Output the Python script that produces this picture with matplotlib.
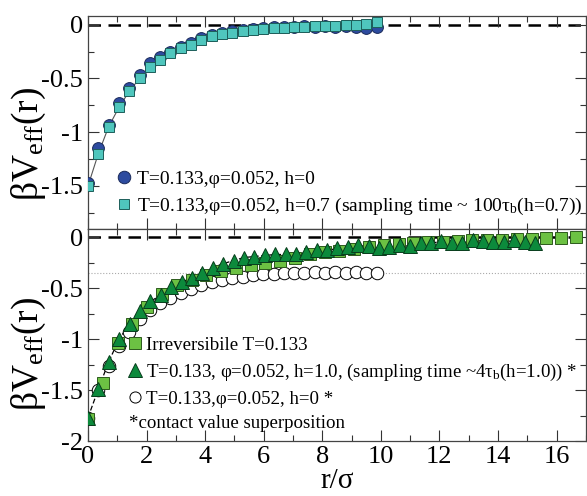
import numpy as np
import matplotlib
matplotlib.use("Agg")
import matplotlib.pyplot as plt
from matplotlib.lines import Line2D
from matplotlib.ticker import MultipleLocator, FuncFormatter

plt.rcParams['font.family'] = ['Liberation Serif', 'DejaVu Serif']
plt.rcParams['mathtext.fontset'] = 'custom'
plt.rcParams['mathtext.rm'] = 'Liberation Serif'
plt.rcParams['mathtext.it'] = 'Liberation Serif:italic'

# ---------------- data ----------------
# top panel
top_x = [round(0.352 * i, 3) for i in range(29)]
top_h0 = [-1.47, -1.15, -0.93, -0.73, -0.59, -0.47, -0.36, -0.30, -0.25, -0.21,
          -0.17, -0.12, -0.10, -0.08, -0.06, -0.05, -0.04, -0.03, -0.025, -0.02,
          -0.02, -0.01, -0.02, -0.01, -0.02, -0.01, -0.02, -0.03, -0.02]
top_h07 = [-1.50, -1.20, -0.95, -0.77, -0.62, -0.50, -0.39, -0.33, -0.26, -0.22,
           -0.19, -0.14, -0.11, -0.09, -0.08, -0.06, -0.05, -0.04, -0.03, -0.03,
           -0.02, -0.02, -0.01, -0.01, -0.01, 0.0, 0.0, 0.01, 0.02]

# bottom panel
irr_x = [round(0.505 * i, 3) for i in range(34)]
irr_y = [-1.78, -1.43, -1.04, -0.85, -0.69, -0.56, -0.47, -0.42, -0.37, -0.33,
         -0.30, -0.27, -0.25, -0.23, -0.20, -0.17, -0.15, -0.14, -0.12, -0.10,
         -0.08, -0.07, -0.06, -0.05, -0.05, -0.04, -0.03, -0.03, -0.03, -0.02,
         -0.02, -0.01, -0.005, 0.0]

tri_x = [round(0.355 * i, 3) for i in range(44)]
tri_y = [-1.77, -1.49, -1.22, -1.00, -0.85, -0.72, -0.63, -0.57, -0.49, -0.44,
         -0.40, -0.35, -0.30, -0.26, -0.23, -0.20, -0.19, -0.18, -0.17, -0.17,
         -0.17, -0.15, -0.13, -0.13, -0.11, -0.10, -0.08, -0.09, -0.11, -0.10,
         -0.08, -0.09, -0.06, -0.06, -0.04, -0.06, -0.06, -0.03, -0.04, -0.05,
         -0.05, -0.03, -0.05, -0.06]

oc_x = [round(0.352 * i, 3) for i in range(29)]
oc_y = [-1.77, -1.50, -1.26, -1.07, -0.93, -0.80, -0.71, -0.65, -0.60, -0.55,
        -0.51, -0.47, -0.44, -0.42, -0.40, -0.39, -0.37, -0.36, -0.36, -0.35,
        -0.35, -0.35, -0.345, -0.35, -0.345, -0.35, -0.345, -0.35, -0.355]
plateau = -0.35

labels_top = ["T=0.133,φ=0.052, h=0",
              "T=0.133,φ=0.052, h=0.7 (sampling time ~ 100τ$_\\mathregular{b}$(h=0.7))"]
labels_bot = ["Irreversibile T=0.133",
              "T=0.133, φ=0.052, h=1.0, (sampling time ~4τ$_\\mathregular{b}$(h=1.0)) *",
              "T=0.133,φ=0.052, h=0 *"]
note = "*contact value superposition"

# ---------------- figure ----------------
W, H = 587, 496
fig = plt.figure(figsize=(W / 100, H / 100), dpi=100)
L, R = 88 / W, 0.998
ax1 = fig.add_axes([L, 1 - 229 / H, R - L, (229 - 16) / H])
ax2 = fig.add_axes([L, 1 - 441 / H, R - L, (441 - 229) / H])

c_blue = '#2d4b9f'
c_cyan = '#4fc6bd'
c_lgreen = '#6cc143'
c_dgreen = '#0c8a3c'


def yfmt(v, pos):
    if abs(v) < 1e-9:
        return '0'
    return '%g' % v


for ax in (ax1, ax2):
    ax.axhline(0, color='black', ls=(0, (5, 3)), lw=1.8, zorder=1)
    ax.set_xlim(0, 17)
    ax.xaxis.set_major_locator(MultipleLocator(2))
    ax.xaxis.set_minor_locator(MultipleLocator(1))
    ax.yaxis.set_major_locator(MultipleLocator(0.5))
    ax.yaxis.set_minor_locator(MultipleLocator(0.25))
    ax.yaxis.set_major_formatter(FuncFormatter(yfmt))
    ax.tick_params(which='both', direction='in', top=True, right=True,
                   labelsize=19, width=0.8, color='#333333')
    ax.tick_params(which='major', length=8)
    ax.tick_params(which='minor', length=4)
    for s in ax.spines.values():
        s.set_linewidth(0.9)
        s.set_color('#444444')

# top panel
ax1.plot(top_x, top_h07, color='#555555', lw=0.8, zorder=2)
ax1.plot(top_x, top_h0, 'o', ms=8.5, mfc=c_blue, mec='#1a2a5a', mew=0.7, zorder=3)
ax1.plot(top_x, top_h07, 's', ms=7.5, mfc=c_cyan, mec='#1d5e5a', mew=0.7, zorder=4)
ax1.set_ylim(-1.9, 0.08)
ax1.tick_params(axis='x', labelbottom=False)
h1 = [Line2D([], [], ls='none', marker='o', ms=9, mfc=c_blue, mec='#1a2a5a', mew=0.7),
      Line2D([], [], ls='none', marker='s', ms=7, mfc=c_cyan, mec='#1d5e5a', mew=0.7)]
ax1.legend(h1, labels_top, loc='lower left', bbox_to_anchor=(0.045, 0.02),
           frameon=False, fontsize=14, handlelength=0.6, handletextpad=0.35,
           borderaxespad=0, labelspacing=0.4)
ax1.set_ylabel("βV$_\\mathregular{eff}$(r)", fontsize=27)
ax1.yaxis.set_label_coords(-0.08, 0.40)

# bottom panel
ax2.axhline(plateau, color='#aaaaaa', ls=':', lw=0.8, zorder=1)
ax2.plot(tri_x, tri_y, color='black', ls=(0, (4, 2)), lw=0.9, zorder=2)
ax2.plot(oc_x, oc_y, 'o', ms=9, mfc='white', mec='black', mew=0.7, zorder=3)
ax2.plot(irr_x, irr_y, 's', ms=8.5, mfc=c_lgreen, mec='#2c5a1c', mew=0.7, zorder=4)
ax2.plot(tri_x, tri_y, '^', ms=10, mfc=c_dgreen, mec='#083d1c', mew=0.7, zorder=5)
ax2.set_ylim(-2, 0.08)
h2 = [Line2D([], [], ls='none', marker='s', ms=9, mfc=c_lgreen, mec='#2c5a1c', mew=0.7),
      Line2D([], [], ls='none', marker='^', ms=10, mfc=c_dgreen, mec='#083d1c', mew=0.7),
      Line2D([], [], ls='none', marker='o', ms=8, mfc='white', mec='black', mew=0.7)]
ax2.legend(h2, labels_bot, loc='lower left', bbox_to_anchor=(0.068, 0.12),
           frameon=False, fontsize=13.6, handlelength=0.6, handletextpad=0.3,
           borderaxespad=0, labelspacing=0.42)
fig.text(129 / W, 1 - 424 / H, note, fontsize=13.6, va='center', ha='left')
ax2.set_ylabel("βV$_\\mathregular{eff}$(r)", fontsize=27)
ax2.yaxis.set_label_coords(-0.08, 0.41)
ax2.set_xlabel("r/σ", fontsize=21, labelpad=0)

fig.savefig("out.png", dpi=100)
